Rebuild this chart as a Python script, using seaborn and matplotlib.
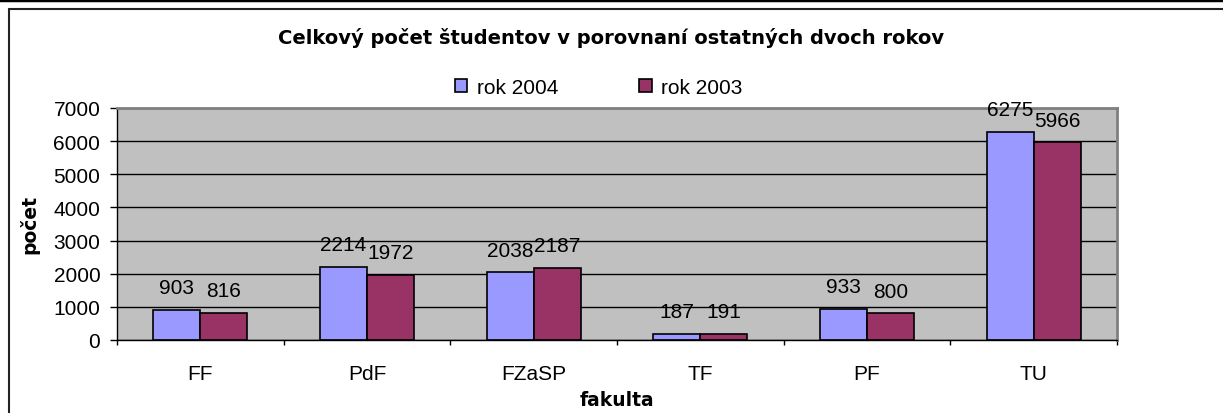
import pandas as pd
import numpy as np
import seaborn as sns
import matplotlib.pyplot as plt
from matplotlib.lines import Line2D
from matplotlib.patches import Patch

fakulty = ['FF', 'PdF', 'FZaSP', 'TF', 'PF', 'TU']
rok_2004 = [903, 2214, 2038, 187, 933, 6275]
rok_2003 = [816, 1972, 2187, 191, 800, 5966]
roky = ['rok 2004', 'rok 2003']
farby = ['#9999FF', '#993366']

df = pd.DataFrame({
    'fakulta': fakulty * 2,
    'pocet': rok_2004 + rok_2003,
    'rok': [roky[0]] * len(fakulty) + [roky[1]] * len(fakulty),
})

sns.set_style('white')
plt.rcParams['font.family'] = ['Liberation Sans', 'DejaVu Sans']
plt.rcParams['text.color'] = 'black'
plt.rcParams['axes.labelcolor'] = 'black'
plt.rcParams['xtick.color'] = 'black'
plt.rcParams['ytick.color'] = 'black'
bold_font = ['DejaVu Sans']

W, H = 1223, 414
fig = plt.figure(figsize=(W / 100, H / 100), dpi=100)
ax = fig.add_axes([117 / W, 1 - 341 / H, 1000 / W, 232 / H])
ax.set_facecolor('#C0C0C0')

sns.barplot(
    data=df,
    x='fakulta',
    y='pocet',
    hue='rok',
    palette=farby,
    saturation=1,
    width=0.565,
    edgecolor='black',
    linewidth=1.2,
    ax=ax,
    legend=False,
)

# hodnoty nad stĺpcami
for cont in ax.containers:
    for bar in cont:
        h = bar.get_height()
        ax.annotate(f'{int(h)}', (bar.get_x() + bar.get_width() / 2, h),
                    xytext=(0, 16), textcoords='offset points',
                    ha='center', va='center', fontsize=15, color='black')

ax.set_ylim(0, 7000)
ax.set_yticks(np.arange(0, 7001, 1000))
ax.set_xlim(-0.5, len(fakulty) - 0.5)
ax.grid(axis='y', color='black', linewidth=1)
ax.set_axisbelow(True)

# značky osi x medzi kategóriami
ax.set_xticks(np.arange(-0.5, len(fakulty)), minor=True)
ax.tick_params(axis='x', which='major', length=0, labelsize=15, pad=17)
ax.tick_params(axis='x', which='minor', length=3.5, width=1, color='black', direction='out')
ax.tick_params(axis='y', length=5, width=1, color='black', direction='out', labelsize=15, pad=7)
ax.xaxis.set_ticks_position('bottom')
ax.yaxis.set_ticks_position('left')

for s in ['top', 'right']:
    ax.spines[s].set_color('#808080')
    ax.spines[s].set_linewidth(2)
for s in ['left', 'bottom']:
    ax.spines[s].set_color('black')
    ax.spines[s].set_linewidth(1)

ax.set_xlabel('fakulta', fontsize=13.5, fontweight='bold', family=bold_font, labelpad=5)
ax.set_ylabel('počet', fontsize=13.5, fontweight='bold', family=bold_font, labelpad=10)

fig.text(0.5, 1 - 38 / H, 'Celkový počet študentov v porovnaní ostatných dvoch rokov',
         ha='center', va='center', fontsize=14, fontweight='bold', family=bold_font)

handles = [Patch(facecolor=c, edgecolor='black', linewidth=1.2) for c in farby]
fig.legend(handles, roky, ncol=2, loc='center', bbox_to_anchor=(0.4894, 1 - 88 / H),
           frameon=False, fontsize=15, handlelength=0.6, handleheight=0.6,
           handletextpad=0.45, columnspacing=3.9)

# rámček grafu a čiara hore
fig.add_artist(Line2D([9 / W, 1], [1 - 10 / H, 1 - 10 / H], color='#222222', linewidth=1.5))
fig.add_artist(Line2D([9 / W, 9 / W], [0, 1 - 10 / H], color='#222222', linewidth=1.5))
fig.add_artist(Line2D([0, 1], [1 - 1 / H, 1 - 1 / H], color='black', linewidth=2.5))

fig.savefig('out.png', dpi=100)
